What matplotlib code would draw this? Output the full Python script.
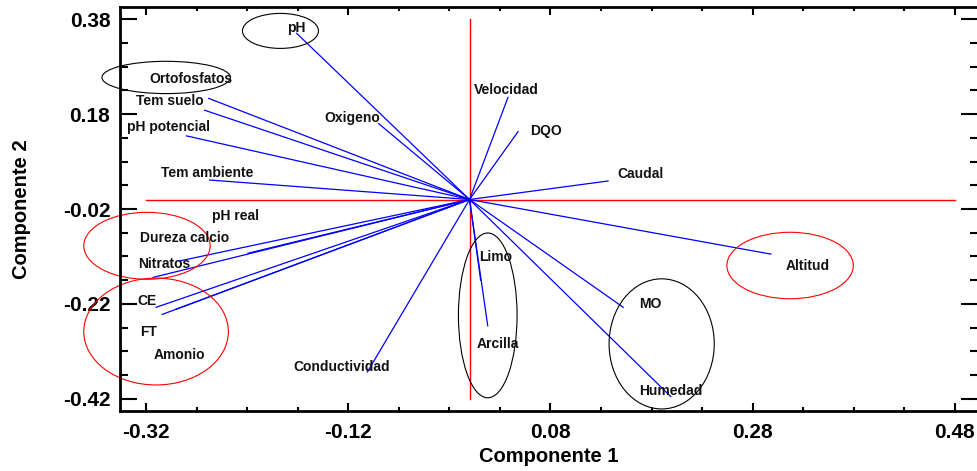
import numpy as np
import matplotlib
matplotlib.use("Agg")
import matplotlib.pyplot as plt
from matplotlib.patches import Ellipse
from matplotlib.ticker import FixedLocator

# Loadings (component 1, component 2)
variables = ["pH", "Ortofosfatos", "Tem suelo", "pH potencial", "Tem ambiente",
             "Oxigeno", "Velocidad", "DQO", "Caudal", "Altitud", "MO", "Humedad",
             "Arcilla", "Limo", "Conductividad", "pH real", "Dureza calcio",
             "Nitratos", "CE", "FT", "Amonio"]
comp1 = [-0.171, -0.258, -0.262, -0.280, -0.257,
         -0.090, 0.038, 0.048, 0.137, 0.298, 0.152, 0.199,
         0.018, 0.011, -0.101, -0.219, -0.286,
         -0.313, -0.310, -0.304, -0.290]
comp2 = [0.350, 0.213, 0.188, 0.134, 0.041,
         0.160, 0.215, 0.143, 0.039, -0.115, -0.227, -0.415,
         -0.266, -0.170, -0.363, -0.113, -0.129,
         -0.164, -0.227, -0.242, -0.231]

# label anchor positions (data units)
label_x = [-0.171, -0.276, -0.296, -0.298, -0.259,
           -0.116, 0.036, 0.076, 0.169, 0.334, 0.179, 0.199,
           0.028, 0.026, -0.126, -0.231, -0.282,
           -0.302, -0.319, -0.317, -0.287]
label_y = [0.361, 0.254, 0.207, 0.153, 0.056,
           0.172, 0.231, 0.144, 0.054, -0.140, -0.220, -0.403,
           -0.304, -0.121, -0.353, -0.035, -0.081,
           -0.136, -0.214, -0.279, -0.327]

# grouping ellipses: center x, center y, width, height, colour
ell_cx = [-0.187, -0.300, -0.319, -0.310, 0.018, 0.190, 0.317]
ell_cy = [0.355, 0.257, -0.0975, -0.278, -0.244, -0.304, -0.139]
ell_w = [0.0752, 0.127, 0.125, 0.143, 0.058, 0.104, 0.125]
ell_h = [0.0737, 0.068, 0.141, 0.225, 0.347, 0.274, 0.140]
ell_col = ["black", "black", "red", "red", "black", "black", "red"]

x_ticks = [-0.32, -0.12, 0.08, 0.28, 0.48]
y_ticks = [-0.42, -0.22, -0.02, 0.18, 0.38]

plt.rcParams['font.family'] = ['Liberation Sans', 'DejaVu Sans']
plt.rcParams['font.weight'] = 'bold'

fig = plt.figure(figsize=(9.77, 4.71), dpi=100)
ax = fig.add_axes([0.1228, 0.1274, 0.8782, 0.8577])

# reference axes (red)
ax.plot([x_ticks[0], x_ticks[-1]], [0, 0], color='#ff0000', lw=1.0, zorder=1)
ax.plot([0, 0], [y_ticks[0], y_ticks[-1]], color='#ff0000', lw=1.0, zorder=1)

for x1, y1 in zip(comp1, comp2):
    ax.plot([0, x1], [0, y1], color='#0000ff', lw=0.9, zorder=2)

for name, tx, ty in zip(variables, label_x, label_y):
    ax.text(tx, ty, name, fontsize=10, fontweight='bold', color='#111111',
            ha='center', va='center', zorder=3)

for cx, cy, w, h, c in zip(ell_cx, ell_cy, ell_w, ell_h, ell_col):
    ax.add_patch(Ellipse((cx, cy), w, h, fill=False, edgecolor=c, lw=0.8,
                         zorder=2, clip_on=False))

ax.set_xlim(-0.3457, 0.5028)
ax.set_ylim(-0.4453, 0.4053)

ax.xaxis.set_major_locator(FixedLocator(x_ticks))
ax.yaxis.set_major_locator(FixedLocator(y_ticks))
ax.xaxis.set_minor_locator(FixedLocator(np.arange(-0.32, 0.50, 0.05)))
ax.yaxis.set_minor_locator(FixedLocator(np.arange(-0.42, 0.40, 0.05)))
ax.set_xticklabels(["-0.32", "-0.12", "0.08", "0.28", "0.48"])
ax.set_yticklabels(["-0.42", "-0.22", "-0.02", "0.18", "0.38"])

ax.tick_params(axis='x', which='major', direction='in', length=6, width=1.5,
               top=True, labelsize=15, pad=9)
ax.tick_params(axis='x', which='minor', direction='in', length=3, width=1.5, top=True)
ax.tick_params(axis='y', which='major', direction='in', length=12, width=1.5,
               right=True, labelsize=15, pad=7)
ax.tick_params(axis='y', which='minor', direction='in', length=6, width=1.5, right=True)

for sp in ax.spines.values():
    sp.set_linewidth(2)

ax.set_xlabel('Componente 1', fontsize=14.5, fontweight='bold')
ax.set_ylabel('Componente 2', fontsize=14.5, fontweight='bold')
ax.xaxis.set_label_coords(0.5, -0.09)
ax.yaxis.set_label_coords(-0.104, 0.5)

fig.savefig('out.png', dpi=100)
